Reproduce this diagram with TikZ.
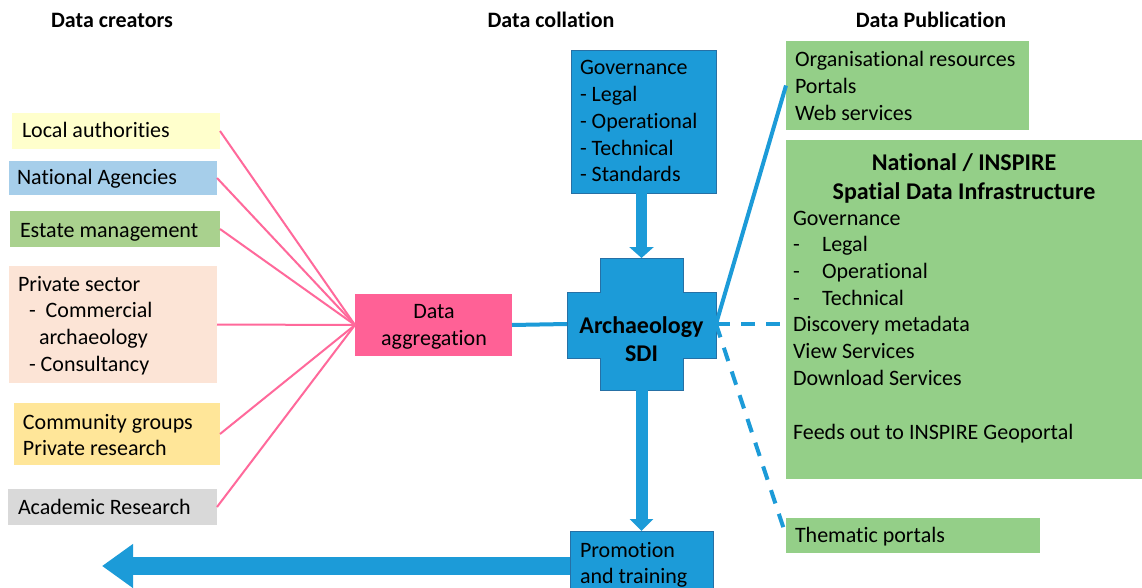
\documentclass[tikz,border=0pt]{standalone}
\usepackage{fontspec}
\setmainfont{Carlito}[Ligatures={NoCommon,NoContextual}]
\usetikzlibrary{arrows.meta,fit}
\definecolor{sdiblue}{RGB}{28,155,216}
\definecolor{sdiedge}{RGB}{38,112,165}
\definecolor{aggpink}{RGB}{255,97,150}
\definecolor{linkpink}{RGB}{255,105,155}
\definecolor{pubgreen}{RGB}{148,207,136}
\definecolor{lauth}{RGB}{255,255,204}
\definecolor{nagency}{RGB}{166,206,234}
\definecolor{estate}{RGB}{169,209,142}
\definecolor{privsec}{RGB}{252,228,214}
\definecolor{commgrp}{RGB}{255,230,153}
\definecolor{acadres}{RGB}{217,217,217}
\newcommand\dbody{\fontsize{22}{26.7}\selectfont}
\newcommand\dbold{\fontsize{24}{28.5}\selectfont\bfseries}
\newcommand\dhead{\fontsize{22}{26}\selectfont\bfseries}
\tikzset{
  boxshape/.style={rectangle, inner sep=0pt, outer sep=0pt, draw=none},
  edged/.style={draw=sdiedge, line width=0.8pt},
  txt/.style={anchor=north west, inner sep=0pt, outer sep=0pt, align=left, font=\dbody, yshift=18.69pt},
  ctxt/.style={anchor=north, inner sep=0pt, outer sep=0pt, align=center, font=\dbody, yshift=18.69pt},
  btxt/.style={anchor=north, inner sep=0pt, outer sep=0pt, align=center, font=\dbold, yshift=19.95pt},
  header/.style={anchor=base, inner sep=0pt, font=\dhead},
  pinkline/.style={draw=linkpink, line width=2pt},
  blueline/.style={draw=sdiblue, line width=4pt},
  bluedash/.style={draw=sdiblue, line width=4pt, dash pattern=on 14pt off 11pt},
  blockarrow/.style={draw=sdiblue},
}
\begin{document}
\begin{tikzpicture}[x=1pt,y=-1pt]
\useasboundingbox (0,0) rectangle (1142,588);
\fill[white] (0,0) rectangle (1142,588);

% headers
\node[header] (h1) at (112,28) {Data creators};
\node[header] (h2) at (551,28) {Data collation};
\node[header] (h3) at (931,28) {Data Publication};

% data creators boxes
\node[boxshape, fill=lauth, fit={(12,113) (220,149)}] (la) {};
\node[boxshape, fill=nagency, fit={(9,161) (217,195)}] (na) {};
\node[boxshape, fill=estate, fit={(10,211) (220,247)}] (em) {};
\node[boxshape, fill=privsec, fit={(9,266) (217,383)}] (ps) {};
\node[boxshape, fill=commgrp, fit={(14,403) (220,465)}] (cg) {};
\node[boxshape, fill=acadres, fit={(8,489) (217,525)}] (ar) {};

% aggregation
\node[boxshape, fill=aggpink, fit={(355,294) (512,356)}] (agg) {};

% collation column
\node[boxshape, fill=sdiblue, edged, fit={(571,50) (716,193)}] (gov) {};
\node[boxshape, fill=sdiblue, edged, fit={(570,531) (713,600)}] (promo) {};
\node[boxshape, fit={(567,258) (716,390)}] (sdi) {};
\fill[sdiblue, draw=sdiedge, line width=0.8pt]
  (600,258) -- (683,258) -- (683,292) -- (716,292) -- (716,358) -- (683,358)
  -- (683,390) -- (600,390) -- (600,358) -- (567,358) -- (567,292) -- (600,292) -- cycle;

% publication column
\node[boxshape, fill=pubgreen, fit={(786,41) (1029,130)}] (org) {};
\node[boxshape, fill=pubgreen, fit={(786,140) (1146,479)}] (nat) {};
\node[boxshape, fill=pubgreen, fit={(786,518) (1040,553)}] (them) {};

% connectors
\foreach \b in {la,na,em,ps,cg,ar} \draw[pinkline] (\b.east) -- (agg.west);
\draw[blueline] (agg.east) -- (sdi.west);
\draw[blueline] (sdi.east) -- (org.west);
\draw[bluedash] (sdi.east) -- (sdi.east -| nat.west);
\draw[bluedash] (sdi.east) -- (them.west);
\draw[blockarrow, line width=11.5pt, -{Triangle[width=24pt,length=11pt]}] (sdi.north |- gov.south) -- (sdi.north);
\draw[blockarrow, line width=12pt, -{Triangle[width=23pt,length=12pt]}] (sdi.south) -- (promo.north);
\coordinate (farleft) at (102,566);
\draw[blockarrow, line width=18pt, -{Triangle[width=42pt,length=31pt]}] (promo.west |- farleft) -- (farleft);

% texts
\node[txt] (tla) at (22,138) {\strut Local authorities};
\node[txt] (tna) at (17,185) {\strut National Agencies};
\node[txt] (tem) at (20,237) {\strut Estate management};
\node[txt] (tps) at (18,291) {\strut Private sector\\\hspace{11pt}-\hspace{10pt}Commercial\\\hspace{21pt}archaeology\\\hspace{11pt}- Consultancy};
\node[txt] (tcg) at (23,429) {\strut Community groups\\Private research};
\node[txt] (tar) at (18,514) {\strut Academic Research};

\node[ctxt] (tagg) at (434,318.5) {\strut Data\\aggregation};
\node[txt] (tgov) at (580,75) {\strut Governance\\- Legal\\- Operational\\- Technical\\- Standards};
\node[btxt] (tsdi) at (641.5,333) {\strut Archaeology\\SDI};
\node[txt] (tpromo) at (580,557) {\strut Promotion\\and training};

\node[txt] (torg) at (795,67) {\strut Organisational resources\\Portals\\Web services};
\node[btxt] (tnat) at (964,171) {\strut National / INSPIRE\\Spatial Data Infrastructure};
\node[txt] (tnatb) at (793,225) {\strut Governance\\-\hspace{22.3pt}Legal\\-\hspace{22.3pt}Operational\\-\hspace{22.3pt}Technical\\Discovery metadata\\View Services\\Download Services};
\node[txt] (tfeed) at (793,439) {\strut Feeds out to INSPIRE Geoportal};
\node[txt] (tthem) at (795,542) {\strut Thematic portals};
\end{tikzpicture}
\end{document}
